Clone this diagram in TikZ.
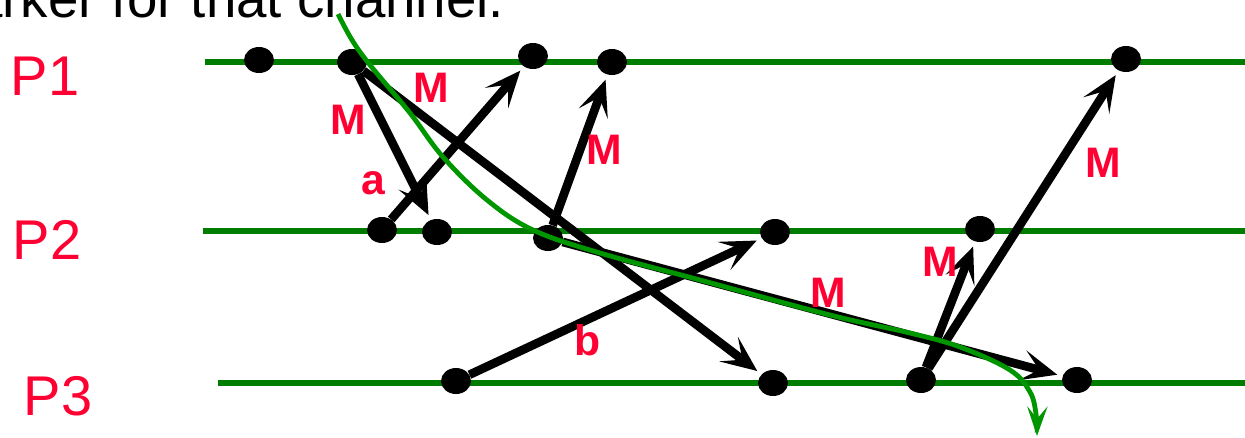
\documentclass[tikz,border=0pt]{standalone}
\usepackage{fontspec}
\setmainfont{Liberation Sans}
\usetikzlibrary{arrows.meta,shapes.geometric}
\definecolor{linegreen}{RGB}{0,125,0}
\definecolor{curvegreen}{RGB}{0,150,0}
\definecolor{lblred}{RGB}{255,0,51}
\tikzset{
  evt/.style={ellipse,fill=black,inner sep=0pt,minimum width=22.5pt,minimum height=19.5pt},
  msg/.style={draw=black,line width=6.5pt,
    -{Stealth[length=27pt,width=23pt,inset=13pt,sep=4pt]}},
  proc/.style={line width=4.2pt,draw=linegreen},
  mlbl/.style={text=lblred,font=\fontsize{32}{32}\selectfont\bfseries},
  plbl/.style={text=lblred,font=\fontsize{42}{42}\selectfont},
}
\begin{document}
\begin{tikzpicture}[x=0.75pt,y=-0.75pt]
\useasboundingbox (0,0) rectangle (1245,437);
% process lines
\coordinate (l1a) at (205,62); \coordinate (l1b) at (1245,62);
\coordinate (l2a) at (203,231); \coordinate (l2b) at (1245,231);
\coordinate (l3a) at (218,383); \coordinate (l3b) at (1245,383);
\draw[proc] (l1a) -- (l1b);
\draw[proc] (l2a) -- (l2b);
\draw[proc] (l3a) -- (l3b);
% labels
\node[plbl] (p1) at (45,76) {P1};
\node[plbl] (p2) at (47,240) {P2};
\node[plbl] (p3) at (58,396) {P3};
\node[anchor=base west,inner sep=0pt,font=\fontsize{41}{41}\selectfont] (top) at (-28,17) {arker for that channel.};
% events
\node[evt] (a1) at (259,60) {};
\node[evt] (a2) at (352,62) {};
\node[evt] (a3) at (533,56) {};
\node[evt] (a4) at (612,62) {};
\node[evt] (a5) at (1126,59) {};
\node[evt] (b1) at (382,230) {};
\node[evt] (b2) at (437,232) {};
\node[evt] (b3) at (548,238) {};
\node[evt] (b4) at (775,232) {};
\node[evt] (b5) at (980,229) {};
\node[evt] (c1) at (456,381) {};
\node[evt] (c2) at (773,383) {};
\node[evt] (c3) at (921,380) {};
\node[evt] (c4) at (1077,380) {};
% messages
\draw[msg] (a2) -- (b2);
\draw[msg] (a2) -- (c2);
\draw[msg] (b1) -- (a3);
\draw[msg] (b3) -- (a4);
\draw[msg] (b3) -- (c4);
\draw[msg] (c1) -- (b4);
\draw[msg] (c3) -- (b5);
\draw[msg] (c3) -- (a5);
% message labels
\node[mlbl] (m1) at (348,120) {M};
\node[mlbl] (m2) at (431,88) {M};
\node[mlbl] (ma) at (373,183) {a};
\node[mlbl] (m3) at (604,150) {M};
\node[mlbl] (m4) at (828,293) {M};
\node[mlbl] (mb) at (588,340) {b};
\node[mlbl] (m5) at (940,262) {M};
\node[mlbl] (m6) at (1103,163) {M};
% cut curve
\draw[curvegreen,line width=3.6pt,-{Stealth[length=22pt,width=15pt,inset=9pt]}]
  plot[smooth,tension=0.6] coordinates {(338,14) (352,40) (370,65) (410,113) (443,157) (487,200) (533,230) (600,253) (700,280) (830,315) (910,333) (960,347) (1010,370) (1030,392) (1036,414) (1037,436)};
\end{tikzpicture}
\end{document}
